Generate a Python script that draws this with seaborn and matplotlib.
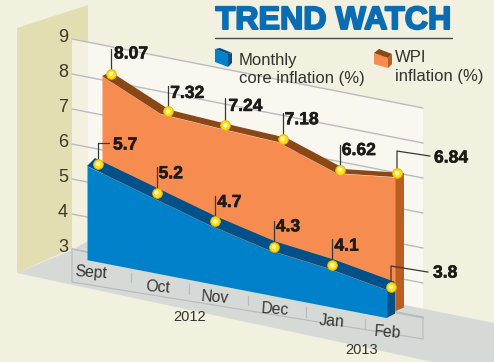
import matplotlib
matplotlib.use("Agg")
import matplotlib.pyplot as plt
import matplotlib.patheffects as pe
from matplotlib.transforms import Affine2D
import numpy as np
import seaborn as sns

# ---- data ----
months = ["Sept", "Oct", "Nov", "Dec", "Jan", "Feb"]
wpi = [8.07, 7.32, 7.24, 7.18, 6.62, 6.84]
core = [5.7, 5.2, 4.7, 4.3, 4.1, 3.8]
value_ticks = [3, 4, 5, 6, 7, 8, 9]
title = "TREND WATCH"
BASE = 3

sns.set_theme(style="white")
plt.rcParams["font.family"] = ["Liberation Sans", "DejaVu Sans"]

BG, OLIVE, STRIP, WALL = "#f2f0de", "#e3deb1", "#f3f0e0", "#f9f7ef"
FLOOR, GRID = "#d6dad6", "#b8bcc0"
ORANGE, BROWN, OSIDE = "#f68c4f", "#8b4716", "#b95f22"
BLUE, DBLUE = "#0081c9", "#00508a"
INK, TBLUE = "#1d1a18", "#0a6cb2"

fig = plt.figure(figsize=(4.94, 3.62), dpi=100, facecolor=BG)
ax = fig.add_axes([0, 0, 1, 1])
ax.set_facecolor(BG)


def plane(x0, dx, y0, dy, v0, sy):
    """(month index, value) -> canvas position for one sheared depth plane."""
    return Affine2D(np.array([[dx, 0, x0], [dy, -sy, y0 + sy * v0], [0, 0, 1]])) + ax.transData


wall_t = plane(72, 58.5, 39, 11.5, 9, 35)
o_front = plane(102, 58.6, 76, 11.6, 8.07, 35)
o_back = plane(111, 58.6, 72, 11.6, 8.07, 35)
o_mark = plane(111, 57.2, 74, 11.2, 8.07, 35)
b_front = plane(87, 60, 166, 11.6, 5.7, 34.7)
b_back = plane(95, 60, 158, 11.6, 5.7, 34.7)
b_side = plane(95, 60, 162, 11.6, 5.7, 34.7)
b_mark = plane(98, 58.6, 164, 11.5, 5.7, 34.5)

# ---- room: walls and floor ----
ax.fill([17, 88, 88, 17], [28, 5, 241, 273], color=OLIVE, lw=0, zorder=1)
ax.fill([72, 88, 88, 72], [39, 42, 252, 249], color=STRIP, lw=0, zorder=1.5)
ax.fill([88, 423, 423, 88], [42, 108, 320, 252], color=WALL, lw=0, zorder=1.5)
ax.fill([17, 72, 88, 494, 494, 433], [273, 250, 241, 323, 362, 362], color=FLOOR, lw=0, zorder=2)
ax.plot([72, 72, 423, 423], [249, 282, 339, 317], color=GRID, lw=0.9, zorder=2.2)
ax.plot([72, 423], [249, 317], color=GRID, lw=0.9, zorder=2.2)

idx = np.arange(len(months))
for v in value_ticks:
    sns.lineplot(x=[0, 6], y=[v, v], ax=ax, color=GRID, lw=1, transform=wall_t, zorder=2.5,
                 errorbar=None, legend=False)
    ax.text(0, v, str(v), transform=wall_t + Affine2D().translate(-9, 1.5), ha="center", va="center",
            fontsize=13, color="#3b3733", zorder=6)
for i in range(1, 6):
    ax.plot([i, i], [BASE - 0.35, BASE - 0.62], transform=wall_t, color=GRID, lw=0.9, zorder=2.3)


def canvas(tr, xs, ys):
    return (tr - ax.transData).transform(np.column_stack([xs, ys]))


def extrude(front, back, xs, ys, color, z):
    f, b = canvas(front, xs, ys), canvas(back, xs, ys)
    poly = np.vstack([f, b[::-1]])
    ax.fill(poly[:, 0], poly[:, 1], color=color, lw=0, zorder=z)


# ---- WPI solid ----
last = idx[-1]
extrude(o_front, o_back, [last, last], [wpi[-1], BASE], OSIDE, 3)
ax.fill_between(idx, BASE, wpi, transform=o_front, color=ORANGE, lw=0, zorder=3.1)
extrude(o_front, o_back, idx, wpi, BROWN, 3.2)

# ---- core solid ----
extrude(b_front, b_side, [last, last], [core[-1], BASE], DBLUE, 4)
extrude(b_front, b_back, idx, core, DBLUE, 4.05)
ax.fill_between(idx, BASE, core, transform=b_front, color=BLUE, lw=0, zorder=4.1)

# ---- markers ----
for vals, tr in ((wpi, o_mark), (core, b_mark)):
    sns.scatterplot(x=idx, y=vals, ax=ax, transform=tr, s=48, color="#ffe017",
                    edgecolor="#e8b400", linewidth=0.7, zorder=7, legend=False)
    sns.scatterplot(x=idx, y=vals, ax=ax, transform=tr, s=10, color="#fff9a8",
                    edgecolor="none", zorder=7.1, legend=False)

# ---- leaders and value labels: (elbow dx, elbow dy, end dx, end dy, label dx, label dy) ----
wpi_lead = [(0, -25, 0, -25, 3, -20), (0, -25, 0, -25, 2, -18), (0, -27, 0, -27, 3, -19),
            (0, -26, 0, -26, 2, -19), (0, -25, 0, -25, 2, -19), (0, -22, 33, -17, 37, -15)]
core_lead = [(0, -21, 11, -21, 15, -19), (0, -26, 0, -26, 2, -19), (0, -25, 0, -25, 2, -19),
             (0, -26, 0, -26, 2, -20), (0, -26, 0, -26, 2, -19), (0, -21, 37, -15, 42, -14)]
for vals, tr, leads in ((wpi, o_mark, wpi_lead), (core, b_mark, core_lead)):
    pts = canvas(tr, idx, vals)
    for (px, py), v, (ex, ey, fx, fy, lx, ly) in zip(pts, vals, leads):
        ax.plot([px, px + ex, px + fx], [py, py + ey, py + fy], color="#3a3836", lw=0.9, zorder=6.5)
        ax.text(px + lx, py + ly, str(v), ha="left", va="center", fontsize=12.6,
                fontweight="bold", color=INK, zorder=8,
                path_effects=[pe.withStroke(linewidth=0.4, foreground=INK)])

# ---- month labels ----
mx = [91, 158, 215, 275, 332, 388]
my = [273, 287, 297, 309, 321, 332]
for x, y, m in zip(mx, my, months):
    ax.text(x, y, m, ha="center", va="center", fontsize=11.3, rotation=-4,
            rotation_mode="anchor", color="#35322f", zorder=6)
ax.text(190, 317, "2012", ha="center", va="center", fontsize=10.5, color="#35322f", zorder=6)
ax.text(362, 350, "2013", ha="center", va="center", fontsize=10.5, color="#35322f", zorder=6)

# ---- title and legend ----
ax.text(333.5, 21, title, ha="center", va="center", fontsize=23.2, fontweight="bold", color=TBLUE,
        zorder=9, path_effects=[pe.withStroke(linewidth=1.4, foreground=TBLUE)])
ax.plot([215, 452], [37.5, 37.5], color="#4a4a48", lw=1, zorder=9)

ax.fill([215, 228, 228, 215], [49, 54, 67, 62], color=BLUE, lw=0, zorder=9)
ax.fill([215, 220, 232, 228], [49, 48, 53, 54], color=DBLUE, lw=0, zorder=9)
ax.fill([228, 232, 232, 228], [54, 53, 63, 67], color=DBLUE, lw=0, zorder=9)
ax.fill([374, 388, 388, 374], [53, 58, 68, 64], color=ORANGE, lw=0, zorder=9)
ax.fill([374, 379, 392, 388], [53, 49, 54, 58], color=BROWN, lw=0, zorder=9)
ax.fill([388, 392, 392, 388], [58, 54, 64, 68], color=OSIDE, lw=0, zorder=9)
for x, y, s in ((239, 60, "Monthly"), (239, 78, "core inflation (%)"),
                (395, 58, "WPI"), (395, 76, "inflation (%)")):
    ax.text(x, y, s, ha="left", va="center", fontsize=12, color="#35322f", zorder=9)

ax.set_xlim(0, 494)
ax.set_ylim(362, 0)
ax.axis("off")
fig.savefig("out.png", dpi=100, facecolor=BG)
